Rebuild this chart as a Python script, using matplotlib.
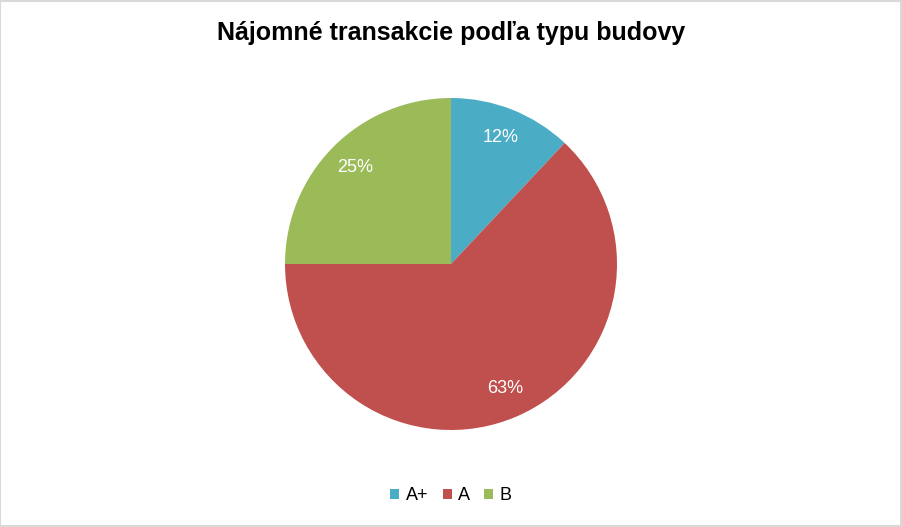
import matplotlib
matplotlib.use("Agg")
import matplotlib.pyplot as plt
from matplotlib.patches import Rectangle

plt.rcParams['font.family'] = ['Liberation Sans', 'DejaVu Sans']

categories = ["A+", "A", "B"]
values = [12, 63, 25]
colors = ["#4BACC6", "#C0504D", "#9BBB59"]
title = "Nájomné transakcie podľa typu budovy"

fig = plt.figure(figsize=(9.02, 5.27), dpi=100)
fig.patch.set_facecolor("white")
fig.patches.append(Rectangle((0.0005, 0.001), 0.998, 0.997, transform=fig.transFigure,
                             fill=False, edgecolor="#D9D9D9", linewidth=1.5))

ax = fig.add_axes([285/902, 97/527, 332/902, 332/527])
wedges, texts, autotexts = ax.pie(values, colors=colors, startangle=90, counterclock=False,
                                  autopct=lambda p: f"{p:.0f}%", pctdistance=0.82,
                                  wedgeprops=dict(linewidth=0))
for t in autotexts:
    t.set_color("white")
    t.set_fontsize(13)
ax.set_xlim(-1, 1)
ax.set_ylim(-1, 1)
ax.set_aspect("equal")

fig.text(451/902, 1 - 33/527, title, ha="center", va="center", fontsize=18, fontweight="bold")

fig.legend(wedges, categories, loc="center", bbox_to_anchor=(451/902, 1 - 496/527),
           ncol=3, frameon=False, fontsize=13, handlelength=0.5, handleheight=0.5,
           handletextpad=0.35, columnspacing=0.8)

fig.savefig("out.png", dpi=100)
